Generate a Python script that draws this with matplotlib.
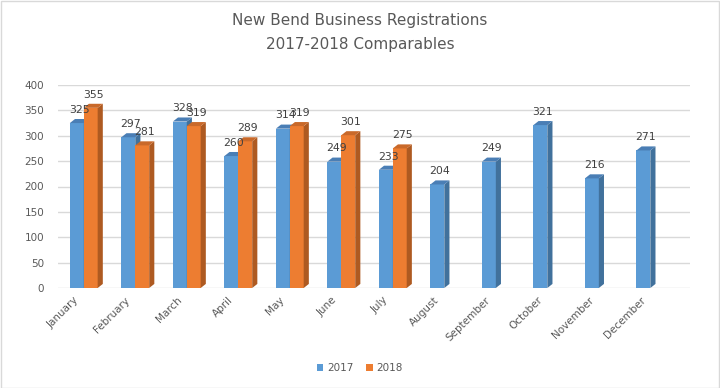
import numpy as np
import matplotlib
matplotlib.use("Agg")
import matplotlib.pyplot as plt
from matplotlib.patches import Polygon, Rectangle

# Data
months = ["January", "February", "March", "April", "May", "June", "July",
          "August", "September", "October", "November", "December"]
regs_2017 = [325, 297, 328, 260, 314, 249, 233, 204, 249, 321, 216, 271]
regs_2018 = [355, 281, 319, 289, 319, 301, 275]

blue, blue_dark, blue_top = "#5B9BD5", "#41719C", "#4A7EB5"
orange, orange_dark, orange_top = "#ED7D31", "#AE5A21", "#C9692A"
txt = "#595959"

w = 0.27      # bar width (category units)
dx = 0.10     # 3d depth, x
dy = 8        # 3d depth, y (data units)

fig = plt.figure(figsize=(7.2, 3.88), dpi=100)
ax = fig.add_axes([58/720, 100/388, (690-58)/720, (287-84)/388])
ax.set_xlim(-0.5, 11.77)
ax.set_ylim(0, 400)


def bar3d(x0, h, c_front, c_side, c_top):
    ax.add_patch(Rectangle((x0, 0), w, h, fc=c_front, ec="none", zorder=3))
    ax.add_patch(Polygon([(x0 + w, 0), (x0 + w + dx, dy), (x0 + w + dx, h + dy), (x0 + w, h)],
                         fc=c_side, ec="none", zorder=3))
    ax.add_patch(Polygon([(x0, h), (x0 + dx, h + dy), (x0 + w + dx, h + dy), (x0 + w, h)],
                         fc=c_top, ec="none", zorder=3))
    ax.annotate(str(h), (x0 + w/2 + dx/2, h + dy), xytext=(0, 3), textcoords="offset points",
                ha="center", va="bottom", fontsize=7.8, color="#404040", zorder=5)


for i, v in enumerate(regs_2017):
    bar3d(i - w, v, blue, blue_dark, blue_top)
for i, v in enumerate(regs_2018):
    bar3d(i, v, orange, orange_dark, orange_top)

ax.set_yticks(np.arange(0, 401, 50))
ax.grid(axis="y", color="#D9D9D9", lw=1, zorder=0)
ax.set_xticks(np.arange(len(months)) - 0.2)
ax.set_xticklabels(months, rotation=45, ha="right", rotation_mode="anchor")
ax.tick_params(axis="both", length=0, labelsize=7.5, labelcolor=txt)
ax.tick_params(axis="y", pad=10)
ax.tick_params(axis="x", pad=5)
for s in ax.spines.values():
    s.set_visible(False)

fig.text(0.5, 1 - 20/388, "New Bend Business Registrations",
         ha="center", va="center", fontsize=11, color=txt)
fig.text(0.5, 1 - 45/388, "2017-2018 Comparables",
         ha="center", va="center", fontsize=11, color=txt)

h1 = Rectangle((0, 0), 1, 1, fc=blue)
h2 = Rectangle((0, 0), 1, 1, fc=orange)
fig.legend([h1, h2], ["2017", "2018"], loc="center", bbox_to_anchor=(0.5, 20/388),
           ncol=2, frameon=False, fontsize=7.5, labelcolor=txt,
           handlelength=0.6, handleheight=0.6, handletextpad=0.4, columnspacing=1.2)

fig.patches.append(Rectangle((0.001, 0.001), 0.997, 0.996, transform=fig.transFigure,
                             fill=False, ec="#D9D9D9", lw=1))

fig.savefig("out.png", dpi=100)
